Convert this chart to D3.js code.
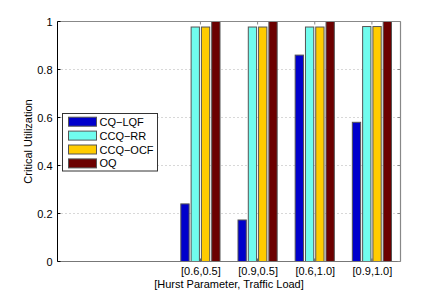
<!DOCTYPE html>
<html><head><meta charset="utf-8">
<script src="https://cdn.jsdelivr.net/npm/d3@7"></script>
<style>body{margin:0;background:#fff;} text{font-family:"Liberation Sans",Arial,sans-serif;}</style>
</head><body>
<svg id="c" width="443" height="295"></svg>
<script>
const categories = ["[0.6,0.5]", "[0.9,0.5]", "[0.6,1.0]", "[0.9,1.0]"];
const seriesNames = ["CQ\u2212LQF", "CCQ\u2212RR", "CCQ\u2212OCF", "OQ"];
const seriesColors = ["#0000cc", "#70fcee", "#ffcc00", "#6c0000"];
const cqLqf = [0.24, 0.173, 0.86, 0.58];
const ccqRr = [0.977, 0.977, 0.977, 0.979];
const ccqOcf = [0.977, 0.977, 0.977, 0.979];
const oq = [1.0, 1.0, 1.0, 1.0];
const yTicks = [0, 0.2, 0.4, 0.6, 0.8, 1];
const series = [cqLqf, ccqRr, ccqOcf, oq];

const svg = d3.select("#c");
const L = 57.5, R = 400.5, T = 21.5, B = 261.5;
// category index 1..4 with x-limits [-1.5, 4.5]
const x = d3.scaleLinear().domain([-1.5, 4.5]).range([L, R]);
const y = d3.scaleLinear().domain([0, 1]).range([B, T]);

// grid
svg.append("g").selectAll("line").data(yTicks.filter(d => d > 0 && d < 1)).join("line")
  .attr("x1", L).attr("x2", R).attr("y1", d => y(d)).attr("y2", d => y(d))
  .attr("stroke", "#b0b0b0").attr("stroke-width", 1).attr("stroke-dasharray", "1,3");

// bars
const step = 0.18, bw = 0.145;
series.forEach((vals, si) => {
  svg.append("g").selectAll("rect").data(vals).join("rect")
    .attr("x", (d, i) => x(i + 1 + (si - 1.5) * step - bw / 2))
    .attr("width", x(bw) - x(0))
    .attr("y", d => y(d))
    .attr("height", d => y(0) - y(d))
    .attr("fill", seriesColors[si])
    .attr("stroke", "#555").attr("stroke-width", 1);
});

// axes box
svg.append("line").attr("x1", L).attr("x2", R).attr("y1", T).attr("y2", T).attr("stroke", "#888").attr("stroke-width", 1.2);
svg.append("line").attr("x1", R).attr("x2", R).attr("y1", T).attr("y2", B).attr("stroke", "#888").attr("stroke-width", 1.2);
svg.append("line").attr("x1", L).attr("x2", R).attr("y1", B).attr("y2", B).attr("stroke", "#777").attr("stroke-width", 1.2);
svg.append("line").attr("x1", L).attr("x2", L).attr("y1", T).attr("y2", B).attr("stroke", "#000").attr("stroke-width", 1);

// y axis
const yAxis = d3.axisLeft(y).tickValues(yTicks).tickFormat(d => d3.format("")(+d.toFixed(1))).tickSize(0).tickPadding(5);
const gy = svg.append("g").attr("transform", `translate(${L},0)`).call(yAxis);
gy.select(".domain").remove();
gy.selectAll("text").attr("font-size", 11).attr("fill", "#000").attr("font-family", "Liberation Sans, Arial, sans-serif");
// y tick marks left and right
svg.append("g").selectAll("line").data(yTicks).join("line")
  .attr("x1", L).attr("x2", L + 3).attr("y1", d => y(d)).attr("y2", d => y(d)).attr("stroke", "#000");
svg.append("g").selectAll("line").data(yTicks).join("line")
  .attr("x1", R - 3).attr("x2", R).attr("y1", d => y(d)).attr("y2", d => y(d)).attr("stroke", "#888");

// x axis
const xAxis = d3.axisBottom(x).tickValues([1, 2, 3, 4]).tickFormat((d) => categories[d - 1]).tickSize(0).tickPadding(6);
const gx = svg.append("g").attr("transform", `translate(0,${B})`).call(xAxis);
gx.select(".domain").remove();
gx.selectAll("text").attr("font-size", 11).attr("fill", "#000").attr("font-family", "Liberation Sans, Arial, sans-serif");
svg.append("g").selectAll("line").data([1, 2, 3, 4]).join("line")
  .attr("x1", d => x(d)).attr("x2", d => x(d)).attr("y1", T).attr("y2", T + 3).attr("stroke", "#888");
svg.append("g").selectAll("line").data([1, 2, 3, 4]).join("line")
  .attr("x1", d => x(d)).attr("x2", d => x(d)).attr("y1", B).attr("y2", B - 3).attr("stroke", "#555");

// labels
svg.append("text").attr("x", (L + R) / 2).attr("y", 288).attr("text-anchor", "middle")
  .attr("font-size", 11).text("[Hurst Parameter, Traffic Load]");
svg.append("text").attr("transform", `translate(32,${(T + B) / 2}) rotate(-90)`).attr("text-anchor", "middle")
  .attr("font-size", 11).text("Critical Utilization");

// legend
const lg = svg.append("g");
lg.append("rect").attr("x", 62.5).attr("y", 113.5).attr("width", 95).attr("height", 57.5)
  .attr("fill", "#fff").attr("stroke", "#333").attr("stroke-width", 1);
seriesNames.forEach((n, i) => {
  const cy = 121.7 + i * 13.9;
  lg.append("rect").attr("x", 68.5).attr("y", cy - 4.5).attr("width", 28).attr("height", 9)
    .attr("fill", seriesColors[i]).attr("stroke", "#555").attr("stroke-width", 1);
  lg.append("text").attr("x", 99.5).attr("y", cy + 4).attr("font-size", 11).text(n);
});
</script>
</body></html>
